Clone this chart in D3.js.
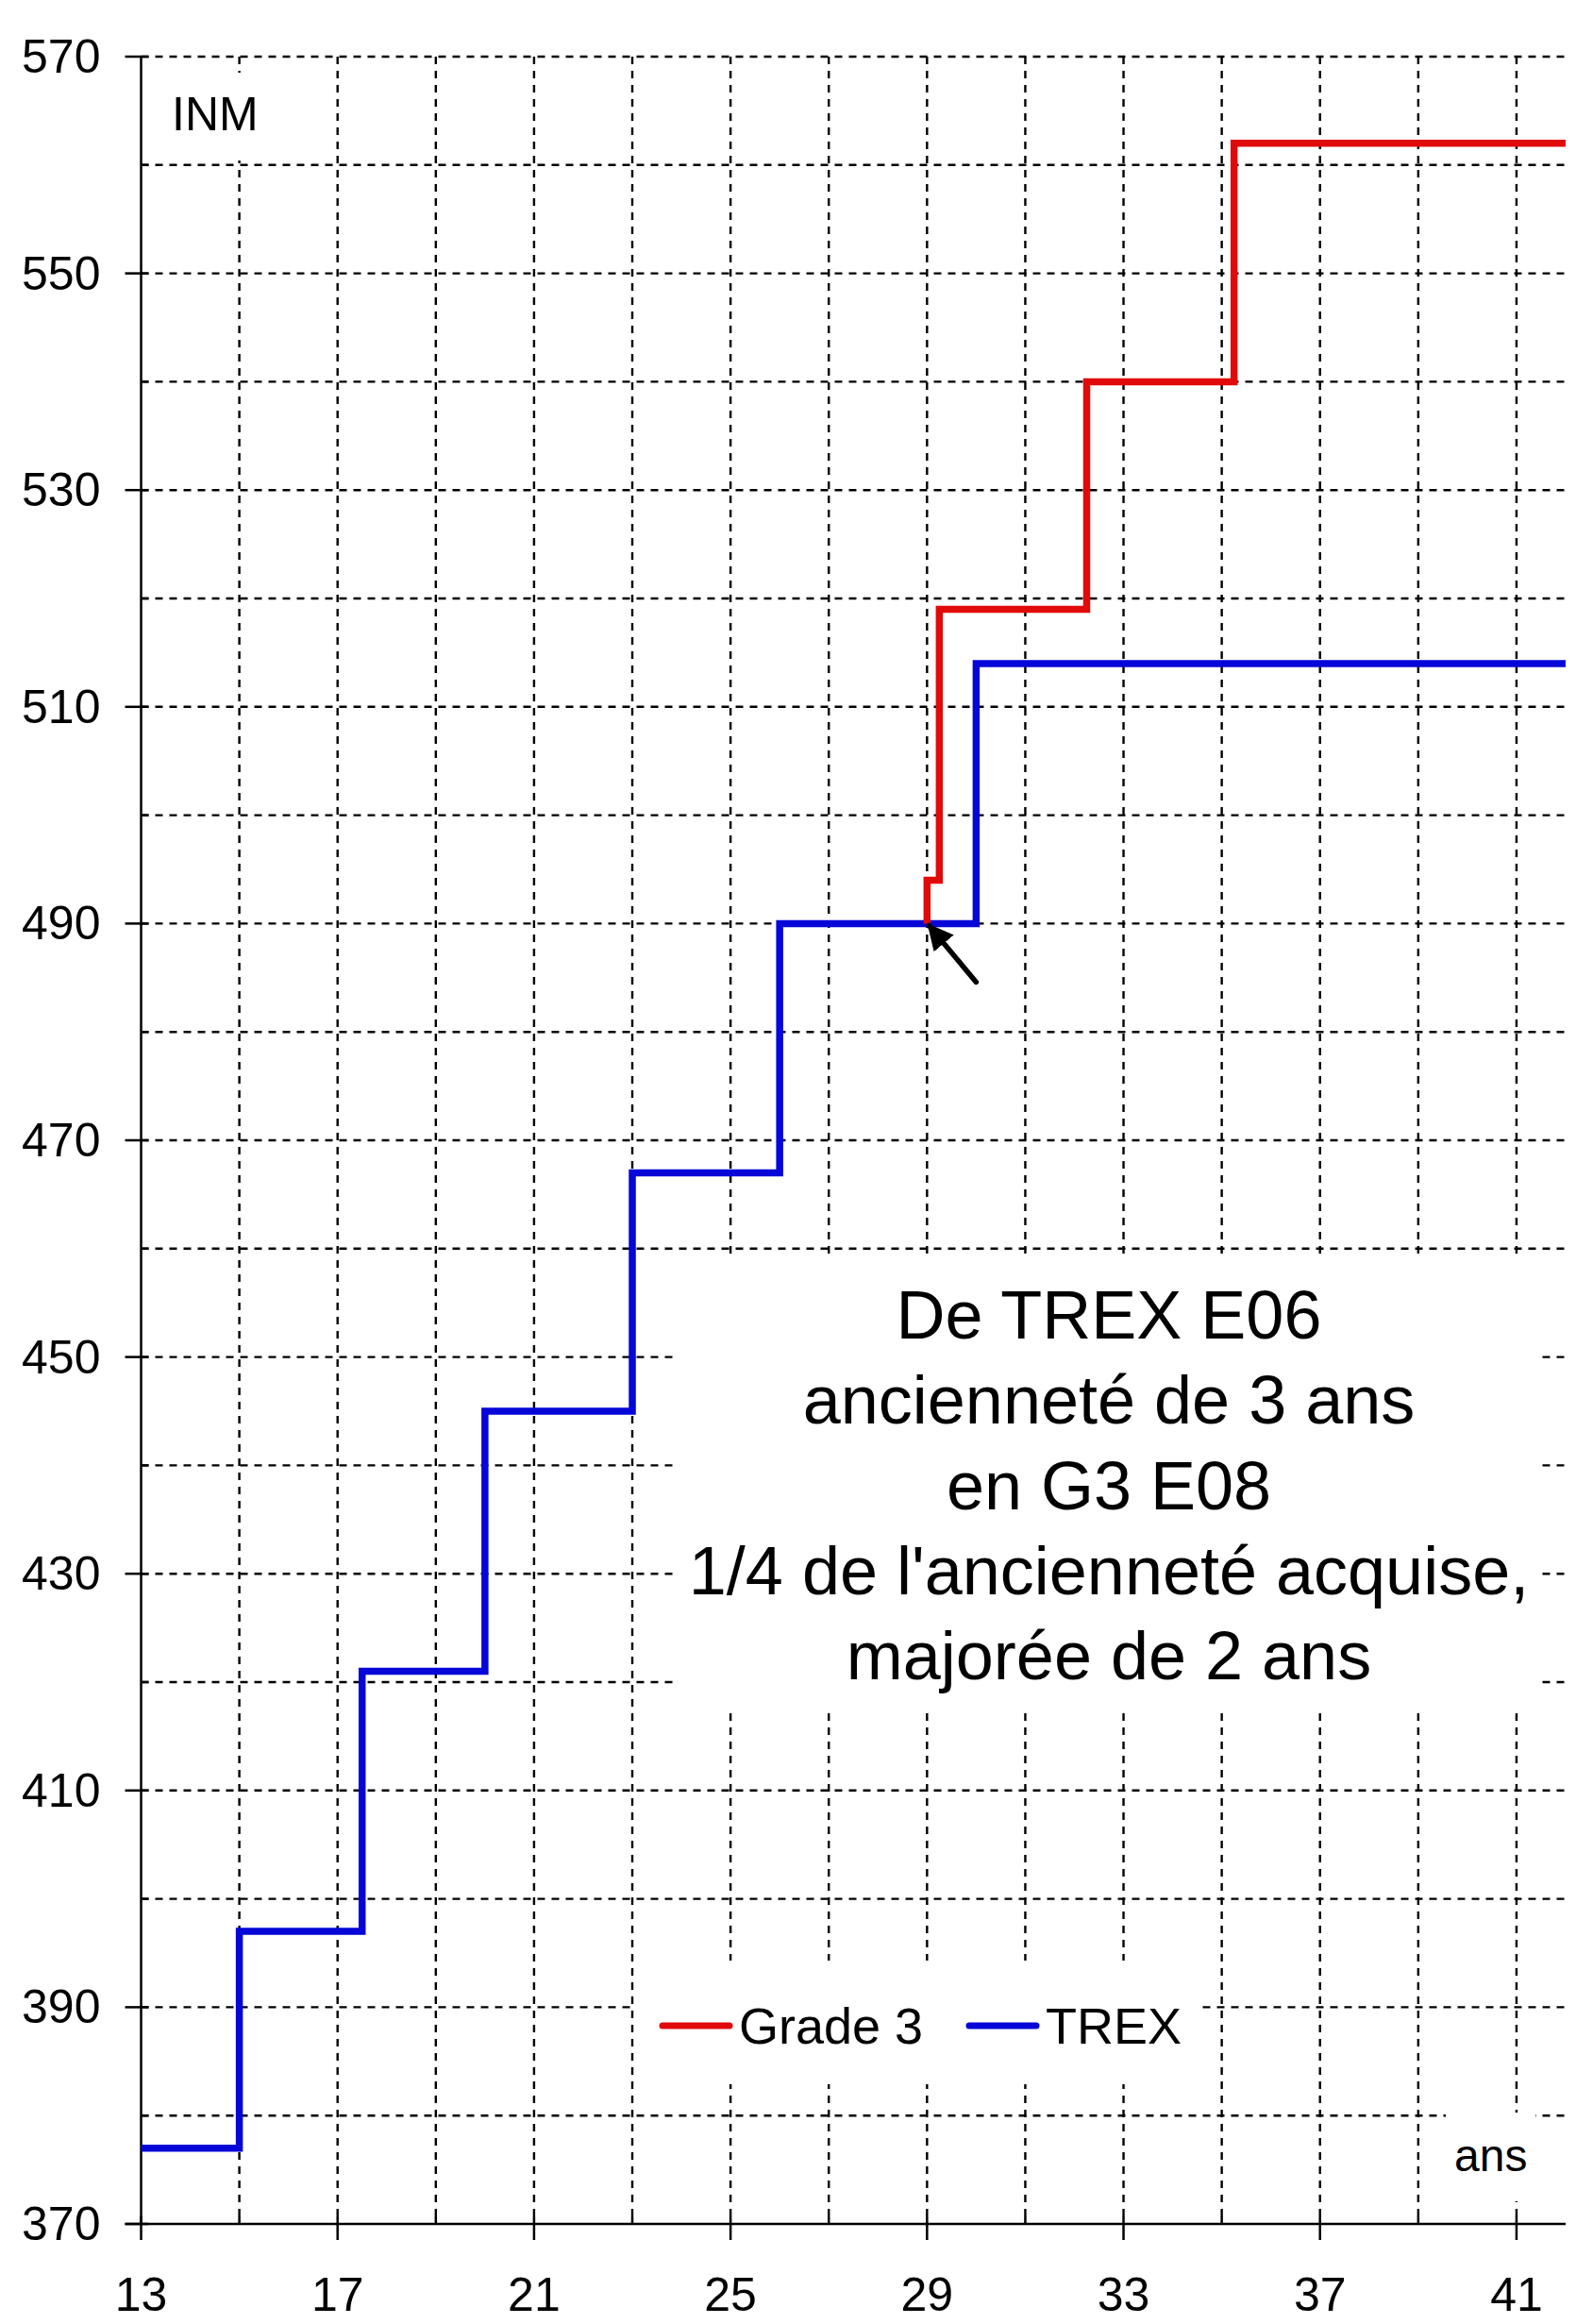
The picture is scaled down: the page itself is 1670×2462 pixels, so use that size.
<!DOCTYPE html>
<html>
<head>
<meta charset="utf-8">
<script src="https://cdn.jsdelivr.net/npm/d3@7"></script>
<style>
  html, body { margin: 0; padding: 0; background: #ffffff; }
  svg { display: block; }
  text { font-family: "Liberation Sans", Arial, Helvetica, sans-serif; fill: #000; }
</style>
</head>
<body>
<script>
// Seniority (years) at which each index step begins, and the INM index held from then on
const trexYears  = [13, 15, 17.5, 20, 23, 26, 30, 42];
const trexINM    = [377, 397, 421, 445, 467, 490, 514, 514];
const grade3Years = [29, 29, 29.25, 32.25, 35.25, 42];
const grade3INM   = [490, 494, 519, 540, 562, 562];

// Axis ticks and grid
const xTickLabels = [13, 17, 21, 25, 29, 33, 37, 41];
const xGridYears  = [15, 17, 19, 21, 23, 25, 27, 29, 31, 33, 35, 37, 39, 41];
const yTickLabels = [370, 390, 410, 430, 450, 470, 490, 510, 530, 550, 570];
const yGridINM    = [380, 390, 400, 410, 420, 430, 440, 450, 460, 470, 480, 490, 500, 510, 520, 530, 540, 550, 560, 570];

// Reclassification point: the TREX agent switches to Grade 3 here
const switchPointer = { from: [30, 484.6], to: [29, 490] };

const series = [
  { name: "Grade 3", years: grade3Years, inm: grade3INM, color: "#e10a0a" },
  { name: "TREX",    years: trexYears,   inm: trexINM,   color: "#0606d8" }
];

const noteLines = [
  "De TREX E06",
  "ancienneté de 3 ans",
  "en G3 E08",
  "1/4 de l'ancienneté acquise,",
  "majorée de 2 ans"
];

const W = 1670, H = 2462;
const svg = d3.select("body").append("svg").attr("width", W).attr("height", H);
svg.append("rect").attr("width", W).attr("height", H).attr("fill", "#fff");

const x = d3.scaleLinear().domain([13, 42]).range([149.5, 1659]);
const y = d3.scaleLinear().domain([370, 570]).range([2356, 60]);

const gridStyle = g => g.attr("stroke", "#000").attr("stroke-width", 2.4).attr("stroke-dasharray", "8,7").attr("fill", "none");

// Dashed grid
const grid = svg.append("g");
grid.selectAll("line.h").data(yGridINM).join("line").attr("class", "h")
  .attr("x1", x(13)).attr("x2", x(42))
  .attr("y1", d => y(d)).attr("y2", d => y(d))
  .call(gridStyle);
grid.selectAll("line.v").data(xGridYears).join("line").attr("class", "v")
  .attr("x1", d => x(d)).attr("x2", d => x(d))
  .attr("y1", y(570)).attr("y2", y(370))
  .call(gridStyle);

// White panels behind the annotations
const panels = [
  { x: 160, y: 77, w: 120, h: 93 },      // INM
  { x: 719, y: 1330, w: 909, h: 480 },   // note
  { x: 672, y: 2077, w: 598, h: 131 },   // legend
  { x: 1532, y: 2238, w: 95, h: 94 }     // ans
];
svg.append("g").selectAll("rect").data(panels).join("rect")
  .attr("x", d => d.x).attr("y", d => d.y).attr("width", d => d.w).attr("height", d => d.h)
  .attr("fill", "#fff");

// Axes
const axes = svg.append("g").attr("stroke", "#000").attr("stroke-width", 2.5);
axes.append("line").attr("x1", x(13)).attr("x2", x(13)).attr("y1", y(570)).attr("y2", y(370));
axes.append("line").attr("x1", x(13) - 17).attr("x2", x(42)).attr("y1", y(370)).attr("y2", y(370));
// y ticks
axes.selectAll("line.yt").data(yTickLabels).join("line").attr("class", "yt")
  .attr("x1", x(13) - 17).attr("x2", x(13) + 8).attr("y1", d => y(d)).attr("y2", d => y(d));
axes.selectAll("line.ytm").data(yGridINM.filter(v => !yTickLabels.includes(v))).join("line").attr("class", "ytm")
  .attr("x1", x(13)).attr("x2", x(13) + 8).attr("y1", d => y(d)).attr("y2", d => y(d));
// x ticks
axes.selectAll("line.xt").data(xTickLabels).join("line").attr("class", "xt")
  .attr("x1", d => x(d)).attr("x2", d => x(d)).attr("y1", y(370) - 8).attr("y2", y(370) + 17);
axes.selectAll("line.xtm").data(xGridYears.filter(v => !xTickLabels.includes(v))).join("line").attr("class", "xtm")
  .attr("x1", d => x(d)).attr("x2", d => x(d)).attr("y1", y(370) - 8).attr("y2", y(370));

// Tick labels
svg.append("g").selectAll("text").data(yTickLabels).join("text")
  .attr("x", x(13) - 43).attr("y", d => y(d) + 17)
  .attr("text-anchor", "end").attr("font-size", 50)
  .text(d => d);
svg.append("g").selectAll("text").data(xTickLabels).join("text")
  .attr("x", d => x(d)).attr("y", y(370) + 92)
  .attr("text-anchor", "middle").attr("font-size", 50)
  .text(d => d);

// Axis titles
svg.append("text").attr("x", 182).attr("y", 138).attr("font-size", 50).text("INM");
svg.append("text").attr("x", 1541).attr("y", 2300).attr("font-size", 48).text("ans");

// Step lines
const line = d3.line().curve(d3.curveStepAfter).x(d => x(d[0])).y(d => y(d[1]));
svg.append("g").selectAll("path").data(series.slice().reverse()).join("path")
  .attr("d", s => line(s.years.map((yr, i) => [yr, s.inm[i]])))
  .attr("fill", "none").attr("stroke", s => s.color).attr("stroke-width", 7.5)
  .attr("stroke-linejoin", "miter").attr("stroke-linecap", "butt");

// Pointer arrow
svg.append("defs").append("marker")
  .attr("id", "head").attr("viewBox", "0 0 10 10").attr("refX", 9).attr("refY", 5)
  .attr("markerWidth", 5).attr("markerHeight", 5).attr("orient", "auto")
  .append("path").attr("d", "M0,0 L10,5 L0,10 z").attr("fill", "#000");
svg.append("line")
  .attr("x1", x(switchPointer.from[0])).attr("y1", y(switchPointer.from[1]))
  .attr("x2", x(switchPointer.to[0]) + 2).attr("y2", y(switchPointer.to[1]) + 2)
  .attr("stroke", "#000").attr("stroke-width", 5.5).attr("stroke-linecap", "round")
  .attr("marker-end", "url(#head)");

// Note
svg.append("g").selectAll("text").data(noteLines).join("text")
  .attr("x", 1175).attr("y", (d, i) => 1418 + i * 90.3)
  .attr("text-anchor", "middle").attr("font-size", 72)
  .text(d => d);

// Legend
const legendItems = [
  { s: series[0], x0: 702, x1: 773, tx: 783 },
  { s: series[1], x0: 1027, x1: 1098, tx: 1108 }
];
const lg = svg.append("g");
lg.selectAll("line").data(legendItems).join("line")
  .attr("x1", d => d.x0).attr("x2", d => d.x1).attr("y1", 2146).attr("y2", 2146)
  .attr("stroke", d => d.s.color).attr("stroke-width", 7).attr("stroke-linecap", "round");
lg.selectAll("text").data(legendItems).join("text")
  .attr("x", d => d.tx).attr("y", 2165).attr("font-size", 54)
  .text(d => d.s.name);
</script>
</body>
</html>
